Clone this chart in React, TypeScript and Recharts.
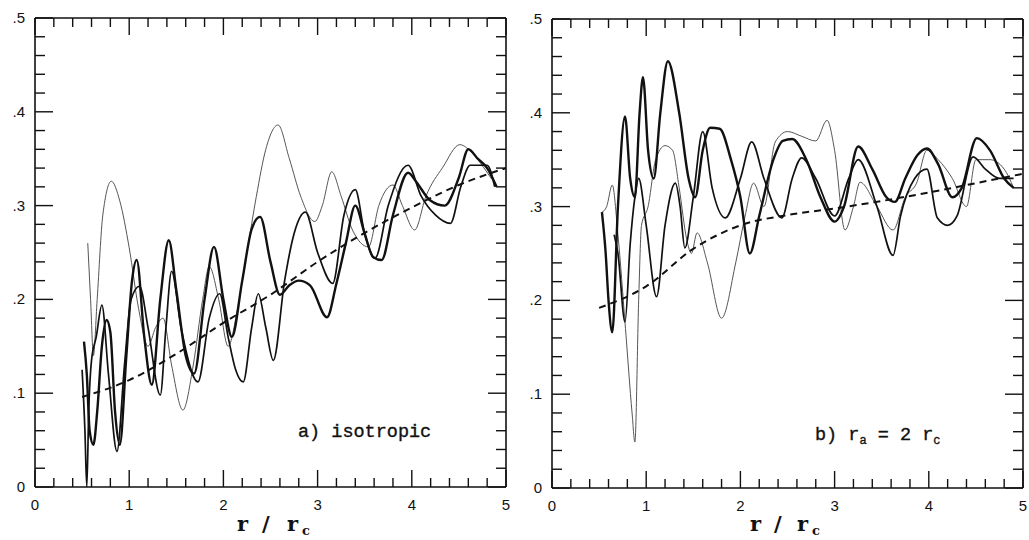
import { LineChart, Line, XAxis, YAxis } from "recharts";

// tick positions (minor every 0.2 in r, every 0.02 in y); every 5th is a labelled major
const X_TICKS = [0, 0.2, 0.4, 0.6, 0.8, 1, 1.2, 1.4, 1.6, 1.8, 2, 2.2, 2.4, 2.6, 2.8, 3, 3.2, 3.4, 3.6, 3.8, 4, 4.2, 4.4, 4.6, 4.8, 5];
const Y_TICKS = [0, 0.02, 0.04, 0.06, 0.08, 0.1, 0.12, 0.14, 0.16, 0.18, 0.2, 0.22, 0.24, 0.26, 0.28, 0.3, 0.32, 0.34, 0.36, 0.38, 0.4, 0.42, 0.44, 0.46, 0.48, 0.5];
const X_LABELS = ["0", "1", "2", "3", "4", "5"];
const Y_LABELS = ["0", ".1", ".2", ".3", ".4", ".5"];

// panel a) isotropic
const isoModel: [number, number][] = [
  [0.5, 0.096], [1, 0.114], [1.5, 0.142], [2, 0.175], [2.5, 0.205],
  [3, 0.24], [3.5, 0.271], [4, 0.298], [4.5, 0.322], [5, 0.34],
];
const isoThick: [number, number][] = [
  [0.52, 0.155], [0.55, 0.12], [0.58, 0.06], [0.62, 0.045], [0.66, 0.08], [0.71, 0.15],
  [0.76, 0.178], [0.8, 0.165], [0.85, 0.08], [0.9, 0.045], [0.97, 0.14], [1.03, 0.22],
  [1.08, 0.242], [1.16, 0.16], [1.24, 0.109], [1.33, 0.2], [1.42, 0.263], [1.5, 0.21],
  [1.6, 0.14], [1.69, 0.121], [1.8, 0.2], [1.9, 0.256], [2.0, 0.2], [2.09, 0.16],
  [2.2, 0.22], [2.3, 0.275], [2.39, 0.288], [2.5, 0.24], [2.6, 0.205], [2.7, 0.215],
  [2.8, 0.22], [2.92, 0.215], [3.1, 0.181], [3.2, 0.217], [3.3, 0.26], [3.4, 0.3],
  [3.5, 0.27], [3.59, 0.245], [3.68, 0.242], [3.8, 0.29], [3.96, 0.335], [4.05, 0.325],
  [4.19, 0.306], [4.35, 0.3], [4.5, 0.33], [4.6, 0.36], [4.7, 0.35], [4.8, 0.34], [4.9, 0.32],
];
const isoMedium: [number, number][] = [
  [0.5, 0.125], [0.53, 0.06], [0.55, 0.0], [0.57, 0.08], [0.6, 0.135], [0.65, 0.16],
  [0.71, 0.194], [0.78, 0.12], [0.87, 0.038], [0.95, 0.13], [1.02, 0.2], [1.11, 0.214],
  [1.2, 0.17], [1.33, 0.098], [1.39, 0.17], [1.45, 0.23], [1.55, 0.17], [1.73, 0.112],
  [1.85, 0.18], [1.96, 0.206], [2.05, 0.16], [2.13, 0.125], [2.21, 0.112], [2.3, 0.17],
  [2.37, 0.206], [2.45, 0.17], [2.53, 0.135], [2.65, 0.22], [2.75, 0.27], [2.87, 0.293],
  [3.0, 0.25], [3.16, 0.217], [3.28, 0.29], [3.4, 0.317], [3.5, 0.27], [3.61, 0.244],
  [3.75, 0.3], [3.96, 0.343], [4.1, 0.31], [4.25, 0.29], [4.41, 0.281], [4.52, 0.32],
  [4.62, 0.343], [4.8, 0.343], [4.88, 0.32],
];
const isoThin: [number, number][] = [
  [0.56, 0.26], [0.59, 0.2], [0.62, 0.14], [0.66, 0.2], [0.72, 0.29], [0.81, 0.326],
  [0.9, 0.305], [1.0, 0.255], [1.1, 0.19], [1.2, 0.15], [1.28, 0.17], [1.36, 0.18],
  [1.45, 0.13], [1.57, 0.082], [1.68, 0.13], [1.78, 0.2], [1.85, 0.235], [1.95, 0.2],
  [2.05, 0.15], [2.15, 0.19], [2.25, 0.25], [2.35, 0.31], [2.45, 0.36], [2.58, 0.386],
  [2.7, 0.35], [2.82, 0.31], [2.97, 0.283], [3.05, 0.3], [3.15, 0.336], [3.25, 0.31],
  [3.37, 0.274], [3.54, 0.256], [3.65, 0.3], [3.8, 0.322], [3.9, 0.3], [4.03, 0.274],
  [4.15, 0.31], [4.33, 0.341], [4.51, 0.365], [4.65, 0.355], [4.76, 0.341], [4.85, 0.328],
];

// panel b) ra = 2 rc
const aniModel: [number, number][] = [
  [0.5, 0.192], [1, 0.215], [1.5, 0.255], [2, 0.28], [2.5, 0.291],
  [3, 0.298], [3.5, 0.306], [4, 0.315], [4.5, 0.325], [5, 0.335],
];
const aniThick: [number, number][] = [
  [0.53, 0.294], [0.57, 0.25], [0.6, 0.2], [0.64, 0.166], [0.7, 0.3], [0.775, 0.396],
  [0.83, 0.33], [0.88, 0.31], [0.93, 0.4], [0.966, 0.438], [1.02, 0.36], [1.08, 0.33],
  [1.15, 0.4], [1.23, 0.455], [1.35, 0.4], [1.45, 0.33], [1.52, 0.31], [1.6, 0.36],
  [1.68, 0.384], [1.78, 0.383], [1.9, 0.35], [2.0, 0.31], [2.1, 0.25], [2.2, 0.29],
  [2.35, 0.35], [2.45, 0.37], [2.55, 0.372], [2.7, 0.35], [2.85, 0.31], [3.0, 0.284],
  [3.1, 0.3], [3.25, 0.364], [3.4, 0.34], [3.55, 0.31], [3.64, 0.305], [3.75, 0.33],
  [3.88, 0.355], [3.98, 0.362], [4.1, 0.345], [4.25, 0.31], [4.35, 0.32], [4.51, 0.373],
  [4.65, 0.36], [4.8, 0.33], [4.9, 0.32],
];
const aniMedium: [number, number][] = [
  [0.66, 0.27], [0.7, 0.25], [0.775, 0.177], [0.83, 0.26], [0.88, 0.31], [0.92, 0.33],
  [1.0, 0.28], [1.11, 0.204], [1.2, 0.28], [1.31, 0.325], [1.36, 0.3], [1.41, 0.256],
  [1.5, 0.31], [1.6, 0.38], [1.7, 0.32], [1.84, 0.288], [2.0, 0.33], [2.12, 0.369],
  [2.25, 0.33], [2.44, 0.288], [2.55, 0.33], [2.65, 0.352], [2.8, 0.33], [3.0, 0.29],
  [3.15, 0.33], [3.25, 0.35], [3.45, 0.3], [3.62, 0.248], [3.7, 0.29], [3.85, 0.33],
  [3.98, 0.34], [4.09, 0.288], [4.2, 0.28], [4.3, 0.29], [4.47, 0.353], [4.6, 0.34],
  [4.75, 0.33], [4.9, 0.33],
];
const aniThin: [number, number][] = [
  [0.53, 0.294], [0.58, 0.3], [0.64, 0.323], [0.7, 0.27], [0.78, 0.17], [0.85, 0.08],
  [0.88, 0.049], [0.92, 0.2], [0.95, 0.28], [1.02, 0.3], [1.1, 0.35], [1.2, 0.365],
  [1.28, 0.36], [1.35, 0.32], [1.43, 0.265], [1.48, 0.25], [1.54, 0.272], [1.65, 0.24],
  [1.8, 0.181], [1.95, 0.24], [2.05, 0.29], [2.14, 0.325], [2.25, 0.3], [2.37, 0.369],
  [2.5, 0.38], [2.65, 0.375], [2.8, 0.37], [2.92, 0.392], [3.0, 0.36], [3.11, 0.275],
  [3.2, 0.3], [3.27, 0.326], [3.45, 0.3], [3.62, 0.275], [3.75, 0.31], [3.87, 0.325],
  [3.98, 0.36], [4.1, 0.35], [4.25, 0.33], [4.4, 0.3], [4.5, 0.35], [4.65, 0.35],
  [4.8, 0.34], [4.9, 0.32],
];

const INK = "#111";
const TICK_FONT = "'Liberation Sans', Arial, sans-serif";
const TW = 1.4; // tick mark thickness

const toData = (pts: [number, number][]) => pts.map(([x, y]) => ({ x, y }));

// inward tick marks drawn as thin filled rects
const BottomTick = (p: any) => {
  const major = p.index % 5 === 0;
  const len = major ? 17 : 9;
  return (
    <g>
      <rect x={p.x - TW / 2} y={p.y - len} width={TW} height={len} fill={INK} stroke="none" />
      {major && (
        <text x={p.x} y={p.y + 23} textAnchor="middle" fontSize={15} fontFamily={TICK_FONT} fill={INK} stroke="none">
          {X_LABELS[p.index / 5]}
        </text>
      )}
    </g>
  );
};

const TopTick = (p: any) => {
  const len = p.index % 5 === 0 ? 17 : 9;
  return <rect x={p.x - TW / 2} y={p.y} width={TW} height={len} fill={INK} stroke="none" />;
};

const LeftTick = (p: any) => {
  const major = p.index % 5 === 0;
  const len = major ? 18 : 10;
  return (
    <g>
      <rect x={p.x} y={p.y - TW / 2} width={len} height={TW} fill={INK} stroke="none" />
      {major && (
        <text x={p.x - 10} y={p.y + 5} textAnchor="end" fontSize={15} fontFamily={TICK_FONT} fill={INK} stroke="none">
          {Y_LABELS[p.index / 5]}
        </text>
      )}
    </g>
  );
};

const RightTick = (p: any) => {
  const len = p.index % 5 === 0 ? 18 : 10;
  return <rect x={p.x - len} y={p.y - TW / 2} width={len} height={TW} fill={INK} stroke="none" />;
};

type PanelProps = {
  left: number;
  width: number;
  margin: { top: number; right: number; bottom: number; left: number };
  model: [number, number][];
  thick: [number, number][];
  medium: [number, number][];
  thin: [number, number][];
};

function Panel({ left, width, margin, model, thick, medium, thin }: PanelProps) {
  const axisLine = { stroke: INK, strokeWidth: 1.6 };
  return (
    <div style={{ position: "absolute", left, top: 0 }}>
      <LineChart width={width} height={540} margin={margin}>
        <XAxis xAxisId="b" type="number" dataKey="x" domain={[0, 5]} ticks={X_TICKS} interval={0}
          height={1} tickSize={0} tickMargin={0} tickLine={false} axisLine={axisLine}
          tick={(p: any) => <BottomTick {...p} />} allowDataOverflow />
        <XAxis xAxisId="t" orientation="top" type="number" dataKey="x" domain={[0, 5]} ticks={X_TICKS} interval={0}
          height={1} tickSize={0} tickMargin={0} tickLine={false} axisLine={axisLine}
          tick={(p: any) => <TopTick {...p} />} allowDataOverflow />
        <YAxis yAxisId="l" type="number" domain={[0, 0.5]} ticks={Y_TICKS} interval={0}
          width={1} tickSize={0} tickMargin={0} tickLine={false} axisLine={axisLine}
          tick={(p: any) => <LeftTick {...p} />} allowDataOverflow />
        <YAxis yAxisId="r" orientation="right" type="number" domain={[0, 0.5]} ticks={Y_TICKS} interval={0}
          width={1} tickSize={0} tickMargin={0} tickLine={false} axisLine={axisLine}
          tick={(p: any) => <RightTick {...p} />} allowDataOverflow />
        <Line xAxisId="b" yAxisId="l" data={toData(thin)} dataKey="y" type="monotone" stroke="#555"
          strokeWidth={1} dot={false} isAnimationActive={false} />
        <Line xAxisId="b" yAxisId="l" data={toData(medium)} dataKey="y" type="monotone" stroke={INK}
          strokeWidth={1.7} dot={false} isAnimationActive={false} />
        <Line xAxisId="b" yAxisId="l" data={toData(thick)} dataKey="y" type="monotone" stroke={INK}
          strokeWidth={2.4} dot={false} isAnimationActive={false} />
        <Line xAxisId="b" yAxisId="l" data={toData(model)} dataKey="y" type="monotone" stroke={INK}
          strokeWidth={2} strokeDasharray="7 5" dot={false} isAnimationActive={false} />
      </LineChart>
    </div>
  );
}

export default function App() {
  const monoFont = "'Liberation Mono', 'Courier New', monospace";
  const serifFont = "'DejaVu Serif', 'Liberation Serif', serif";
  return (
    <div style={{ position: "absolute", left: 0, top: 0, width: 1029, height: 540, background: "#fff" }}>
      <Panel left={0} width={520} margin={{ top: 17, right: 13, bottom: 52, left: 34 }}
        model={isoModel} thick={isoThick} medium={isoMedium} thin={isoThin} />
      <Panel left={517} width={512} margin={{ top: 18, right: 5, bottom: 51, left: 34 }}
        model={aniModel} thick={aniThick} medium={aniMedium} thin={aniThin} />
      <svg width={1029} height={540} style={{ position: "absolute", left: 0, top: 0, pointerEvents: "none" }}>
        <g fill={INK} fontFamily={serifFont} fontWeight="bold">
          <text x={237} y={531} fontSize={21}>r</text>
          <text x={262} y={531} fontSize={21}>/</text>
          <text x={287} y={531} fontSize={21}>r</text>
          <text x={302} y={535} fontSize={13}>c</text>
          <text x={750} y={531} fontSize={21}>r</text>
          <text x={774} y={531} fontSize={21}>/</text>
          <text x={797} y={531} fontSize={21}>r</text>
          <text x={812} y={535} fontSize={13}>c</text>
        </g>
        <g fill={INK} stroke={INK} strokeWidth={0.35} fontFamily={monoFont}>
          <text x={298} y={437} fontSize={18.5}>a) isotropic</text>
          <text x={815} y={440} fontSize={18.5} xmlSpace="preserve">
            b) r<tspan fontSize={12} dy={4}>a</tspan>
            <tspan fontSize={18.5} dy={-4}> = 2 r</tspan>
            <tspan fontSize={12} dy={4}>c</tspan>
          </text>
        </g>
      </svg>
    </div>
  );
}
